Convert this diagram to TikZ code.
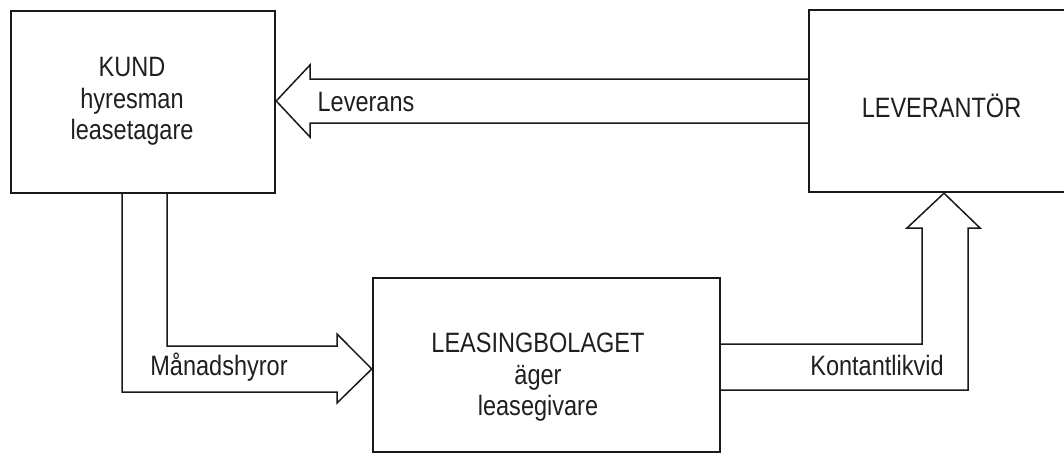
\documentclass[tikz,border=0pt]{standalone}
\usepackage{fontspec}
\setmainfont{Liberation Sans}[FakeStretch=0.84]
\begin{document}
\begin{tikzpicture}[x=1pt,y=-1pt,
  box/.style={draw=black!90,line width=2.4pt,minimum width=#1,inner sep=0pt},
  txt/.style={anchor=base,inner sep=0pt,font=\fontsize{28}{31}\selectfont,text=black!88},
  flow/.style={draw=black!90,line width=1.5pt,line join=miter}]
\useasboundingbox (0,0) rectangle (1064,455);
\clip (0,0) rectangle (1064,455);
% boxes
\node[box=264pt,minimum height=182pt] (kund) at (143,102) {};
\node[box=265pt,minimum height=182pt] (lev) at (941.5,101) {};
\node[box=347pt,minimum height=174pt] (leas) at (546.5,365) {};
% texts
\node[txt] (k1) at (132,76) {KUND};
\node[txt] (k2) at (132,108) {hyresman};
\node[txt] (k3) at (132,139) {leasetagare};
\node[txt] (l1) at (941.5,117) {LEVERANTÖR};
\node[txt] (b1) at (538,352) {LEASINGBOLAGET};
\node[txt] (b2) at (538,384) {äger};
\node[txt] (b3) at (538,415) {leasegivare};
\node[txt] (t1) at (366,111) {Leverans};
\node[txt] (t2) at (219,375) {Månadshyror};
\node[txt] (t3) at (877,375) {Kontantlikvid};
% connector anchor points
\coordinate (levA) at (lev.west |- 0,79);
\coordinate (levB) at (lev.west |- 0,123);
\coordinate (kundTip) at (kund.east |- 0,101);
\coordinate (kundA) at (122,0 |- kund.south);
\coordinate (kundB) at (167,0 |- kund.south);
\coordinate (leasTip) at (leas.west |- 0,369);
\coordinate (leasA) at (leas.east |- 0,344);
\coordinate (leasB) at (leas.east |- 0,390);
\coordinate (levTip) at (944,0 |- lev.south);
% Leverans
\draw[flow] (levA) -- (310,79) -- (310,65) -- (kundTip) -- (310,137) -- (310,123) -- (levB);
% Manadshyror
\draw[flow] (kundA) -- (122,392) -- (337,392) -- (337,403) -- (leasTip) -- (337,334) -- (337,346) -- (167,346) -- (kundB);
% Kontantlikvid
\draw[flow] (leasA) -- (922,344) -- (922,228) -- (907,228) -- (levTip) -- (980,228) -- (968,228) -- (968,390) -- (leasB);
\end{tikzpicture}
\end{document}
